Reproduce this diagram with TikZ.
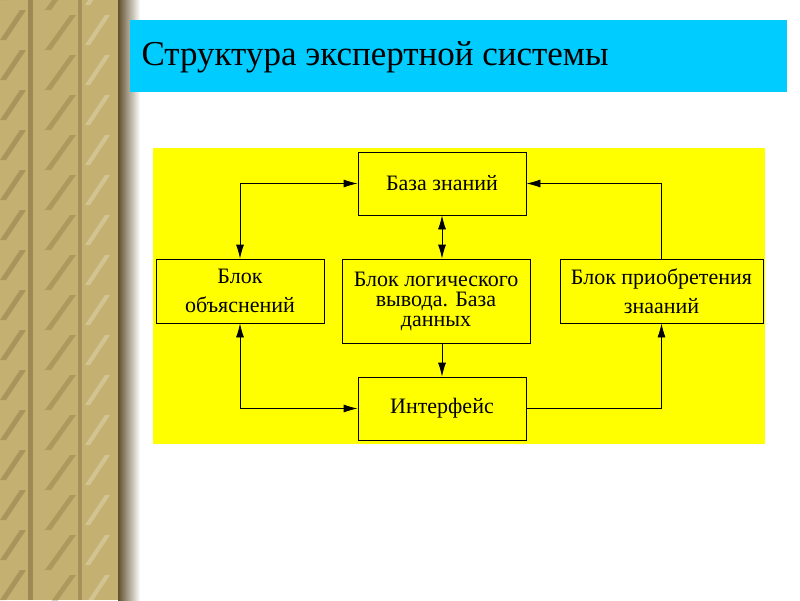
\documentclass[tikz,border=0pt]{standalone}
\usepackage{fontspec}
\setmainfont{Liberation Serif}
\usetikzlibrary{arrows.meta}
\definecolor{gold}{RGB}{196,176,112}
\definecolor{golddark}{RGB}{120,100,55}
\definecolor{cyanbar}{RGB}{0,204,255}
\definecolor{ylw}{RGB}{255,255,0}
\begin{document}
\begin{tikzpicture}[x=1pt,y=-1pt,
  blk/.style={draw=black,line width=0.8pt,fill=ylw,font=\fontsize{22}{23}\selectfont,align=center,inner sep=0pt},
  con/.style={line width=0.8pt,-{Latex[length=14pt,width=8pt]}},
  bcon/.style={line width=0.8pt,{Latex[length=14pt,width=8pt]}-{Latex[length=14pt,width=8pt]}}]
\useasboundingbox (0,0) rectangle (800,600);
\fill[white] (0,0) rectangle (800,600);
% decorative left stripe
\fill[gold] (0,0) rectangle (118,600);
\foreach \y in {-40,0,...,640} {
  \fill[golddark,opacity=0.35] (0,\y) -- (20,\y-30) -- (26,\y-30) -- (6,\y) -- cycle;
  \fill[golddark,opacity=0.3] (45,\y+10) -- (70,\y-25) -- (76,\y-25) -- (51,\y+10) -- cycle;
  \fill[white,opacity=0.25] (85,\y+5) -- (105,\y-25) -- (110,\y-25) -- (90,\y+5) -- cycle;
}
\fill[golddark,opacity=0.5] (28,0) rectangle (33,600);
\fill[golddark,opacity=0.4] (78,0) rectangle (82,600);
\shade[left color=golddark!80!black,right color=white] (118,0) rectangle (140,600);
% title bar
\fill[cyanbar] (130,20) rectangle (787,92);
\node[anchor=west,font=\fontsize{35}{36}\selectfont] (title) at (138,57) {Структура экспертной системы};
% yellow panel
\fill[ylw] (153,148) rectangle (765,444);
% boxes
\node[blk,minimum width=168pt,minimum height=63pt] (kb) at (442,183.5) {База знаний};
\node[blk,minimum width=168pt,minimum height=64pt] (expl) at (240,291) {Блок\\[6pt]объяснений};
\node[blk,minimum width=188pt,minimum height=84pt,font=\fontsize{22}{20}\selectfont] (inf) at (436,301) {Блок логического\\вывода. База\\данных};
\node[blk,minimum width=203pt,minimum height=64pt] (acq) at (661.5,291) {Блок приобретения\\[6pt]знааний};
\node[blk,minimum width=168pt,minimum height=63pt] (ui) at (442,408.5) {Интерфейс};
% connectors
\draw[bcon] (expl.north) |- (kb.west);
\draw[bcon] (kb.south) -- (kb.south |- inf.north);
\draw[con] (kb.south |- inf.south) -- (ui.north);
\draw[bcon] (expl.south) |- (ui.west);
\draw[con] (ui.east) -| (acq.south);
\draw[con] (acq.north) |- (kb.east);
\end{tikzpicture}
\end{document}
